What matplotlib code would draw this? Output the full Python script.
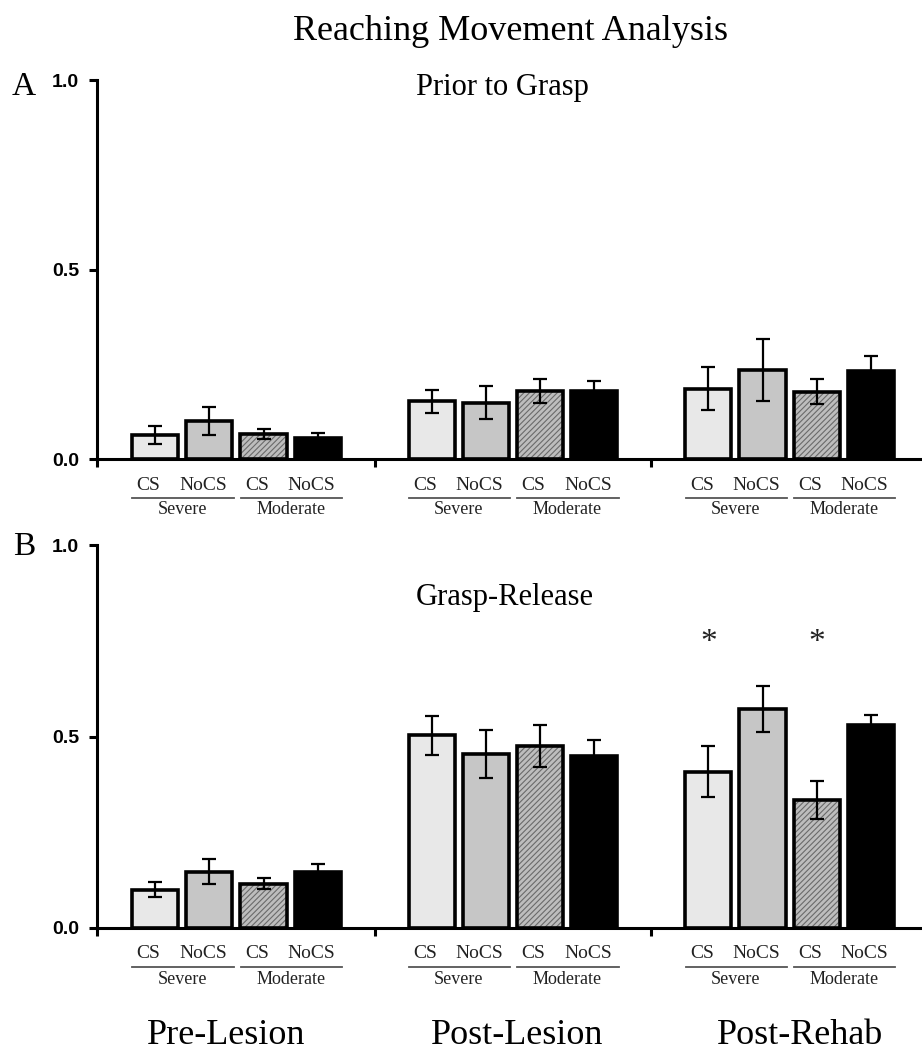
import matplotlib
matplotlib.use("Agg")
import matplotlib.pyplot as plt
from matplotlib.transforms import offset_copy
from matplotlib.lines import Line2D

# data
groups = ["Pre-Lesion", "Post-Lesion", "Post-Rehab"]
bar_labels = ["CS", "NoCS", "CS", "NoCS"]
severity = ["Severe", "Moderate"]

prior_mean = [[0.063, 0.100, 0.065, 0.055],
              [0.152, 0.149, 0.180, 0.180],
              [0.186, 0.235, 0.178, 0.233]]
prior_err = [[0.023, 0.036, 0.013, 0.013],
             [0.030, 0.044, 0.031, 0.025],
             [0.057, 0.082, 0.034, 0.039]]

grasp_mean = [[0.100, 0.147, 0.116, 0.145],
              [0.503, 0.455, 0.476, 0.450],
              [0.408, 0.571, 0.334, 0.529]]
grasp_err = [[0.020, 0.033, 0.015, 0.023],
             [0.050, 0.063, 0.055, 0.040],
             [0.066, 0.060, 0.050, 0.026]]

stars = [(2, 0), (2, 2)]   # (group, bar) marked as significant
star_y = 0.745

face = ["#e8e8e8", "#c6c6c6", "#bdbdbd", "#000000"]
hatches = [None, None, "//////", None]

serif = "Liberation Serif"
sans = "Liberation Sans"

W, H = 922, 1055
fig = plt.figure(figsize=(W / 100, H / 100), dpi=100)
plt.rcParams["hatch.linewidth"] = 0.8

gap = 5.1
x0, x1 = -1.07, 14.14


def xpos(g, i):
    return g * gap + i


def draw_panel(ax, means, errs):
    for g in range(len(groups)):
        for i in range(4):
            x = xpos(g, i)
            if hatches[i]:
                ax.bar(x, means[g][i], width=0.85, color=face[i], edgecolor="#6a6a6a",
                       hatch=hatches[i], linewidth=0, zorder=2)
                ax.bar(x, means[g][i], width=0.85, fill=False, edgecolor="black",
                       linewidth=2.6, zorder=3)
            else:
                ax.bar(x, means[g][i], width=0.85, color=face[i], edgecolor="black",
                       linewidth=2.6, zorder=2)
            ax.errorbar(x, means[g][i], yerr=errs[g][i], color="black", elinewidth=1.6,
                        capsize=5, capthick=1.6, zorder=4, fmt="none")

    ax.set_xlim(x0, x1)
    ax.set_ylim(0, 1.0)
    ax.spines["top"].set_visible(False)
    ax.spines["right"].set_visible(False)
    ax.spines["left"].set_linewidth(2.2)
    ax.spines["bottom"].set_linewidth(2.2)
    ax.set_yticks([0.0, 0.5, 1.0])
    ax.set_yticklabels(["0.0", "0.5", "1.0"], fontfamily=sans, fontweight="bold", fontsize=14)
    ax.set_xticks([x0, gap - 1.05, 2 * gap - 1.05])
    ax.set_xticklabels([])
    ax.tick_params(axis="both", direction="out", length=6, width=2.2)
    ax.tick_params(axis="y", pad=7)

    tr = ax.get_xaxis_transform()
    t_lab = offset_copy(tr, fig=fig, y=-26, units="dots")
    t_line = offset_copy(tr, fig=fig, y=-39, units="dots")
    t_sev = offset_copy(tr, fig=fig, y=-51, units="dots")
    for g in range(len(groups)):
        for i, lab in enumerate(bar_labels):
            ax.text(xpos(g, i) - 0.12, 0, lab, transform=t_lab, ha="center", va="center",
                    fontfamily=serif, fontsize=14, color="#222222")
        for k, sev in enumerate(severity):
            a, b = xpos(g, 2 * k), xpos(g, 2 * k + 1)
            ax.add_line(Line2D([a - 0.42, b + 0.45], [0, 0], transform=t_line,
                               color="#555555", linewidth=1.3, clip_on=False))
            ax.text((a + b) / 2, 0, sev, transform=t_sev, ha="center", va="center",
                    fontfamily=serif, fontsize=13, color="#222222")


axA = fig.add_axes([97 / W, (H - 459) / H, (W - 97) / W, (459 - 80) / H])
axB = fig.add_axes([97 / W, (H - 928) / H, (W - 97) / W, (928 - 545) / H])

draw_panel(axA, prior_mean, prior_err)
draw_panel(axB, grasp_mean, grasp_err)

for g, i in stars:
    axB.text(xpos(g, i), star_y, "*", ha="center", va="center",
             fontfamily=serif, fontsize=24, color="#222222")

# titles and panel letters
fig.text(510 / W, 1 - 32 / H, "Reaching Movement Analysis", ha="center", va="center",
         fontfamily=serif, fontsize=26)
fig.text(502 / W, 1 - 88 / H, "Prior to Grasp", ha="center", va="center",
         fontfamily=serif, fontsize=22)
fig.text(505 / W, 1 - 597 / H, "Grasp-Release", ha="center", va="center",
         fontfamily=serif, fontsize=22)
fig.text(24 / W, 1 - 87 / H, "A", ha="center", va="center", fontfamily=serif, fontsize=24)
fig.text(24 / W, 1 - 547 / H, "B", ha="center", va="center", fontfamily=serif, fontsize=24)

# bottom group labels
label_x = [226, 517, 800]
for lx, name in zip(label_x, groups):
    fig.text(lx / W, 1 - 1035 / H, name, ha="center", va="center",
             fontfamily=serif, fontsize=26)

fig.savefig("out.png", dpi=100)
